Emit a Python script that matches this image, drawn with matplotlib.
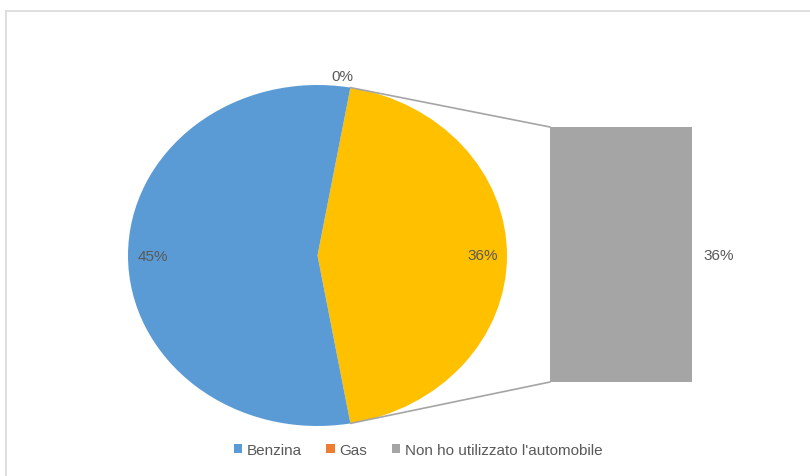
import numpy as np
import matplotlib.pyplot as plt
from matplotlib.patches import ConnectionPatch, Patch
from matplotlib.lines import Line2D

# data
pie_labels = ["Altro", "Gas", "Benzina"]
pie_values = [36, 0, 45]
pie_colors = ["#FFC000", "#ED7D31", "#5B9BD5"]
bar_label = "Non ho utilizzato l'automobile"
bar_value = 36
legend_names = ["Benzina", "Gas", "Non ho utilizzato l'automobile"]
legend_colors = ["#5B9BD5", "#ED7D31", "#A5A5A5"]

txt = "#595959"
fs = 11
plt.rcParams['font.family'] = ['Liberation Sans', 'DejaVu Sans']

W, H = 810, 477
fig = plt.figure(figsize=(W / 100, H / 100), dpi=100)

def px(x0, y0, x1, y1):
    return [x0 / W, 1 - y1 / H, (x1 - x0) / W, (y1 - y0) / H]

# chart frame (top and left edge only visible)
fig.add_artist(Line2D([5.5 / W, 1.0], [1 - 11.5 / H] * 2, transform=fig.transFigure,
                      color="#d9d9d9", lw=1.2))
fig.add_artist(Line2D([5.5 / W] * 2, [0, 1 - 11.5 / H], transform=fig.transFigure,
                      color="#d9d9d9", lw=1.2))

# pie
ax = fig.add_axes(px(128, 86, 507, 427))
total = sum(pie_values)
start = -pie_values[0] / total * 360 / 2
wedges, _ = ax.pie(pie_values, colors=pie_colors, startangle=start, counterclock=True,
                   radius=1, wedgeprops=dict(linewidth=0))
ax.set_xlim(-1, 1)
ax.set_ylim(-1, 1)
ax.set_aspect('auto')
ax.axis('off')

for w, v in zip(wedges, pie_values):
    mid = np.deg2rad((w.theta1 + w.theta2) / 2)
    if v > 0:
        ax.text(0.87 * np.cos(mid), 0.87 * np.sin(mid), f"{v}%", ha="center", va="center",
                fontsize=fs, color=txt)
    else:
        ax.text(1.08 * np.cos(mid), 1.07 * np.sin(mid), f"{v}%", ha="right", va="center",
                fontsize=fs, color=txt)

# bar
ax2 = fig.add_axes(px(550, 128, 692, 383))
ax2.bar([0], [bar_value], width=1, color="#A5A5A5", label=bar_label)
ax2.set_xlim(-0.5, 0.5)
ax2.set_ylim(0, bar_value)
ax2.axis('off')
ax2.text(1.0 + 27 / 142, 0.5, f"{bar_value}%", transform=ax2.transAxes, ha="center",
         va="center", fontsize=fs, color=txt)

# connector lines
t1 = np.deg2rad(wedges[0].theta2)
t0 = np.deg2rad(wedges[0].theta1)
for t, yb in [(t1, bar_value), (t0, 0)]:
    con = ConnectionPatch(xyA=(np.cos(t), np.sin(t)), coordsA=ax.transData,
                          xyB=(-0.5, yb), coordsB=ax2.transData,
                          color="#A5A5A5", lw=1.2)
    fig.add_artist(con)

# legend
handles = [Patch(facecolor=c, edgecolor="none", label=n) for n, c in zip(legend_names, legend_colors)]
fig.legend(handles=handles, loc="center", bbox_to_anchor=(418 / W, 1 - 451 / H), ncol=3,
           frameon=False, fontsize=fs, handlelength=0.55, handleheight=0.55, handletextpad=0.3,
           columnspacing=1.6, labelcolor=txt)

fig.savefig("out.png", dpi=100)
